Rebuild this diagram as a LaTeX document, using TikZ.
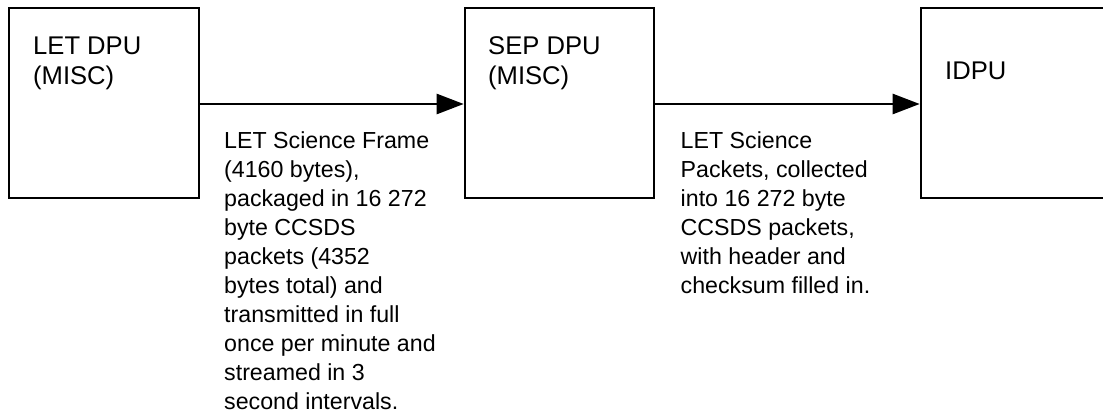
\documentclass[tikz,border=0pt]{standalone}
\usepackage{fontspec}
\setmainfont{Liberation Sans}
\usetikzlibrary{arrows.meta}
\begin{document}
\begin{tikzpicture}[x=1pt,y=-1pt,
  unit/.style={draw=black,line width=2.6pt,minimum width=#1,minimum height=190pt,inner sep=0pt},
  unitlabel/.style={anchor=base west,inner sep=0pt,align=left,font=\fontsize{25.6}{30}\selectfont},
  flowlabel/.style={anchor=base west,inner sep=0pt,align=left,font=\fontsize{23.2}{29.1}\selectfont},
  flow/.style={line width=2.6pt,-{Triangle[length=27pt,width=20pt]}}]
\useasboundingbox (0,0) rectangle (1103,414);
\clip (0,0) rectangle (1103,414);
\node[unit=190pt] (let) at (104,103) {};
\node[unit=189pt] (sep) at (559.5,103) {};
\node[unit=190pt] (idpu) at (1016,103) {};
% base anchor = baseline of the last line
\node[unitlabel] (letlbl) at (33,84.3) {LET DPU\\(MISC)};
\node[unitlabel] (seplbl) at (488,84.3) {SEP DPU\\(MISC)};
\node[unitlabel] (idpulbl) at (945,80) {IDPU};
\draw[flow] (let.east |- 0,104) -- (sep.west |- 0,104);
\draw[flow] (sep.east |- 0,104) -- (idpu.west |- 0,104);
\node[flowlabel] (f1) at (224,409.9) {LET Science Frame\\(4160 bytes),\\packaged in 16 272\\byte CCSDS\\packets (4352\\bytes total) and\\transmitted in full\\once per minute and\\streamed in 3\\second intervals.};
\node[flowlabel] (f2) at (680.5,293.5) {LET Science\\Packets, collected\\into 16 272 byte\\CCSDS packets,\\with header and\\checksum filled in.};
\end{tikzpicture}
\end{document}
